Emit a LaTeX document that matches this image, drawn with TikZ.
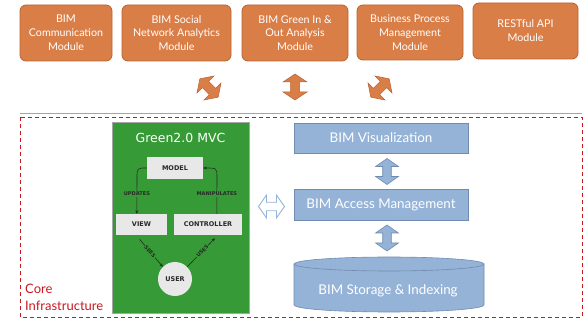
\documentclass[tikz,border=0pt]{standalone}
\usepackage{fontspec}
\setmainfont{Lato}
\newfontfamily\mvcfont{DejaVu Sans}
\usetikzlibrary{calc,arrows.meta}
\definecolor{orf}{RGB}{218,126,72}
\definecolor{ord}{RGB}{183,98,48}
\definecolor{blf}{RGB}{149,179,215}
\definecolor{bld}{RGB}{111,140,176}
\definecolor{grf}{RGB}{54,155,54}
\definecolor{mvcg}{RGB}{232,232,232}
\definecolor{crd}{RGB}{200,25,35}
\definecolor{sepg}{RGB}{165,165,165}
\definecolor{mvct}{RGB}{40,40,40}
\tikzset{
  modbox/.style={draw=ord, fill=orf, rounded corners=6pt, line width=0.8pt, text=white,
    align=center, font=\fontsize{10.7}{13.8}\selectfont, inner sep=0pt, minimum height=56pt},
  blbox/.style={draw=bld, fill=blf, line width=0.8pt, text=white, inner sep=0pt,
    minimum width=174pt, font=\fontsize{13.4}{15}\selectfont},
  mvcbox/.style={fill=mvcg, inner sep=0pt, font=\mvcfont\bfseries\fontsize{6.5}{7}\selectfont, text=mvct},
  mvcarr/.style={draw=mvct, line width=0.6pt, -{Stealth[length=3.5pt,width=3pt]}},
  mvclab/.style={fill=grf, inner sep=0.6pt, font=\mvcfont\bfseries\fontsize{5.1}{5.5}\selectfont, text=mvct},
  dblarr/.pic={\path[pic actions] (0,-13) -- (12,-5) -- (4.5,-5) -- (4.5,5) -- (12,5) -- (0,13)
     -- (-12,5) -- (-4.5,5) -- (-4.5,-5) -- (-12,-5) -- cycle;},
  orarr/.style={fill=orf, draw=ord, line width=0.5pt},
  blarr/.style={fill=blf, draw=bld, line width=0.6pt},
}
\begin{document}
\begin{tikzpicture}[x=1pt,y=-1pt]
\useasboundingbox (0,0) rectangle (584,320);
% top modules
\node[modbox, minimum width=92pt] (m1) at (66,33) {BIM\\Communication\\Module};
\node[modbox, minimum width=109pt] (m2) at (176.5,33) {BIM Social\\Network Analytics\\Module};
\node[modbox, minimum width=106pt] (m3) at (295,33) {BIM Green In \&\\Out Analysis\\Module};
\node[modbox, minimum width=106pt, minimum height=55pt] (m4) at (410,32.5) {Business Process\\Management\\Module};
\node[modbox, minimum width=105pt] (m5) at (525.5,31) {RESTful API\\Module};
% orange block arrows
\pic[orarr, rotate=45] (oa1) at (209,88) {dblarr};
\pic[orarr] (oa2) at (295,87) {dblarr};
\pic[orarr, rotate=-45] (oa3) at (380,88) {dblarr};
% separator
\draw[sepg, line width=0.8pt] (20,113) -- (582,113);
% core infrastructure frame
\draw[crd, line width=0.7pt, dash pattern=on 4pt off 3pt] (20,117) rectangle (582,317);
\node[text=crd, anchor=west, align=left, font=\fontsize{13}{17}\selectfont, inner sep=0pt] (core) at (25,297) {Core\\Infrastructure};
% green MVC panel
\node[fill=grf, draw=gray!70, line width=0.6pt, minimum width=137pt, minimum height=191pt, inner sep=0pt] (mvc) at (180.5,217.5) {};
\node[text=white, font=\mvcfont\fontsize{12.5}{14}\selectfont, inner sep=0pt] (mvct) at (180.5,138) {Green2.0 MVC};
\node[mvcbox, minimum width=56pt, minimum height=22pt] (model) at (175,168) {MODEL};
\node[mvcbox, minimum width=51pt, minimum height=21pt] (view) at (141.5,224.5) {VIEW};
\node[mvcbox, minimum width=68pt, minimum height=21pt] (ctrl) at (208,224.5) {CONTROLLER};
\node[mvcbox, circle, minimum size=34pt] (user) at (175,279) {USER};
\draw[mvcarr] (model.west) .. controls (137,168) .. (137,178) -- node[mvclab, pos=0.45] {UPDATES} ($(view.north west)+(21,0)$);
\draw[mvcarr] ($(ctrl.north west)+(43,0)$) -- node[mvclab, pos=0.55] {MANIPULATES} (217,178) .. controls (217,168) .. (model.east);
\draw[mvcarr] ($(view.south)+(-2,4)$) -- node[mvclab, sloped, pos=0.45] {SEES} (user.north west);
\draw[mvcarr] (user.north east) -- node[mvclab, sloped, pos=0.55] {USES} ($(ctrl.south)+(7,3)$);
% hollow arrow
\pic[fill=white, draw=blf, line width=0.9pt, rotate=90, xscale=0.95] (ha) at (271.5,206.5) {dblarr};
% blue stack
\node[blbox, minimum height=30pt] (vis) at (381,138) {BIM Visualization};
\node[blbox, minimum height=31pt] (acc) at (381,204.5) {BIM Access Management};
\pic[blarr, xscale=0.95] (ba1) at (387,171.5) {dblarr};
\pic[blarr, xscale=0.95] (ba2) at (387,238) {dblarr};
% cylinder
\path[blarr] (294,264) -- (294,305) .. controls (294,308.87) and (336.53,312) .. (389,312)
  .. controls (441.47,312) and (484,308.87) .. (484,305) -- (484,264);
\draw[blarr] (389,264) ellipse [x radius=95, y radius=7];
\node[text=white, font=\fontsize{13.4}{15}\selectfont, inner sep=0pt] (stor) at (388,291) {BIM Storage \& Indexing};
\end{tikzpicture}
\end{document}
